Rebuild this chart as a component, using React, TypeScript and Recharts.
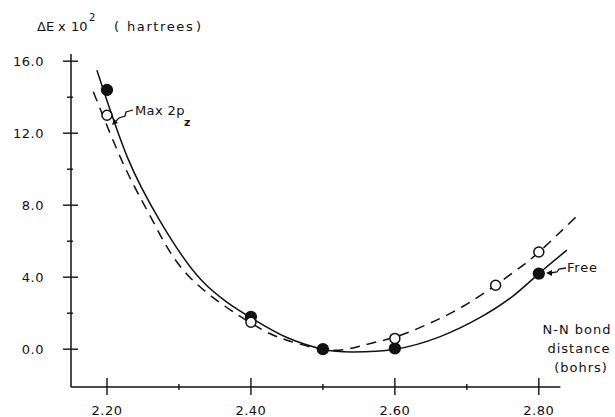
import { ComposedChart, Line, Scatter, XAxis, YAxis, ReferenceLine, Customized } from 'recharts'

// bond distance (bohrs) vs ΔE x 10^2 (hartrees)
const freePts = [
  { x: 2.2, y: 14.4 },
  { x: 2.4, y: 1.8 },
  { x: 2.5, y: 0.0 },
  { x: 2.6, y: 0.05 },
  { x: 2.8, y: 4.2 },
]
const maxPts = [
  { x: 2.2, y: 13.0 },
  { x: 2.4, y: 1.5 },
  { x: 2.6, y: 0.6 },
  { x: 2.74, y: 3.55 },
  { x: 2.8, y: 5.4 },
]
// fitted curves
const freeCurve = [
  { x: 2.186, y: 15.5 }, { x: 2.229, y: 10.6 }, { x: 2.274, y: 7.1 }, { x: 2.332, y: 3.8 },
  { x: 2.4, y: 1.75 }, { x: 2.45, y: 0.65 }, { x: 2.5, y: 0.0 },
  { x: 2.54, y: -0.15 }, { x: 2.6, y: 0.0 }, { x: 2.663, y: 0.7 }, { x: 2.718, y: 1.75 },
  { x: 2.764, y: 2.95 }, { x: 2.8, y: 4.2 }, { x: 2.839, y: 5.5 },
]
const maxCurve = [
  { x: 2.181, y: 14.3 }, { x: 2.225, y: 10.1 }, { x: 2.264, y: 7.1 }, { x: 2.315, y: 4.0 },
  { x: 2.4, y: 1.45 }, { x: 2.45, y: 0.5 }, { x: 2.51, y: -0.05 },
  { x: 2.556, y: 0.22 }, { x: 2.6, y: 0.67 }, { x: 2.649, y: 1.45 }, { x: 2.704, y: 2.6 },
  { x: 2.764, y: 4.25 }, { x: 2.8, y: 5.39 }, { x: 2.853, y: 7.4 },
]

const xMajor = [2.2, 2.4, 2.6, 2.8]
const xMinor = [2.3, 2.5, 2.7]
const yMajor = [0, 4, 8, 12, 16]
const yMinor = [2, 6, 10, 14]
const xDomain = [2.15, 2.86]
const yDomain = [-2.1, 16.4]
const xAxisEnd = 2.83

const FONT = '"DejaVu Sans", sans-serif'
const INK = '#111'

const XTick = (props: any) => {
  const { x, y, payload } = props
  const major = xMajor.includes(payload.value)
  return (
    <g>
      <line x1={x} x2={x} y1={major ? y - 9 : y - 3} y2={major ? y + 8 : y + 3} stroke={INK} strokeWidth={1.4} />
      {major && (
        <text x={x} y={y + 23} textAnchor="middle" dominantBaseline="central" fontSize={13} fontFamily={FONT} fill={INK} letterSpacing={0.5}>
          {payload.value.toFixed(2)}
        </text>
      )}
    </g>
  )
}

const YTick = (props: any) => {
  const { x, y, payload } = props
  const major = yMajor.includes(payload.value)
  return (
    <g>
      <line x1={major ? x - 8 : x - 4} x2={major ? x + 7 : x + 2} y1={y} y2={y} stroke={INK} strokeWidth={1.4} />
      {major && (
        <text x={x - 27} y={y} textAnchor="end" dominantBaseline="central" fontSize={13} fontFamily={FONT} fill={INK} letterSpacing={0.5}>
          {payload.value.toFixed(1)}
        </text>
      )}
    </g>
  )
}

const Dot = (filled: boolean) => (p: any) => (
  <circle cx={p.cx} cy={p.cy} r={filled ? 5.4 : 5} fill={filled ? INK : '#fff'} stroke={INK} strokeWidth={1.5} />
)

const Notes = () => (
  <g fontFamily={FONT} fill={INK} fontSize={13}>
    <text x={37} y={31}>ΔE</text>
    <text x={58} y={31}>x</text>
    <text x={71} y={31}>10</text>
    <text x={89} y={21} fontSize={10}>2</text>
    <text x={114} y={31}>(</text>
    <text x={127} y={31} letterSpacing={1.6}>hartrees</text>
    <text x={196} y={31}>)</text>

    <text x={135} y={115} letterSpacing={0.4}>Max 2p</text>
    <text x={184} y={126} fontSize={11} fontWeight="bold">z</text>
    <path d="M133 110 L126 112 L125 116 L119 118 L114 123" stroke={INK} strokeWidth={1.3} fill="none" />
    <path d="M112 125 L114 119 L118 123 Z" fill={INK} />

    <text x={567} y={272} letterSpacing={0.8}>Free</text>
    <path d="M566 268 L559 269 L557 272 L550 273" stroke={INK} strokeWidth={1.3} fill="none" />
    <path d="M546 273 L552 270 L552 276 Z" fill={INK} />

    <g textAnchor="middle" letterSpacing={1}>
      <text x={577} y={334}>N-N bond</text>
      <text x={579} y={353}>distance</text>
      <text x={581} y={372}>(bohrs)</text>
    </g>
  </g>
)

export default function App() {
  return (
    <div style={{ position: 'absolute', left: 0, top: 0, background: '#fff' }}>
      <ComposedChart width={615} height={417} margin={{ top: 54, right: 33, bottom: 0, left: 0 }}>
        <XAxis
          type="number" dataKey="x" domain={xDomain} ticks={[...xMajor, ...xMinor].sort()}
          axisLine={false} tickLine={false} tickSize={0} tickMargin={0} tick={<XTick />} height={30} interval={0}
        />
        <YAxis
          type="number" dataKey="y" domain={yDomain} ticks={[...yMajor, ...yMinor].sort((a, b) => a - b)}
          axisLine={{ stroke: INK, strokeWidth: 1.5 }} tickLine={false} tickSize={0} tickMargin={0} tick={<YTick />} width={71} interval={0}
        />
        <ReferenceLine segment={[{ x: xDomain[0], y: yDomain[0] }, { x: xAxisEnd, y: yDomain[0] }]} stroke={INK} strokeWidth={1.5} ifOverflow="visible" />
        <Line data={freeCurve} dataKey="y" type="natural" stroke={INK} strokeWidth={1.5} dot={false} isAnimationActive={false} />
        <Line data={maxCurve} dataKey="y" type="natural" stroke={INK} strokeWidth={1.5} strokeDasharray="10 7" dot={false} isAnimationActive={false} />
        <Scatter data={freePts} dataKey="y" shape={Dot(true)} isAnimationActive={false} />
        <Scatter data={maxPts} dataKey="y" shape={Dot(false)} isAnimationActive={false} />
        <Customized component={Notes} />
      </ComposedChart>
    </div>
  )
}
